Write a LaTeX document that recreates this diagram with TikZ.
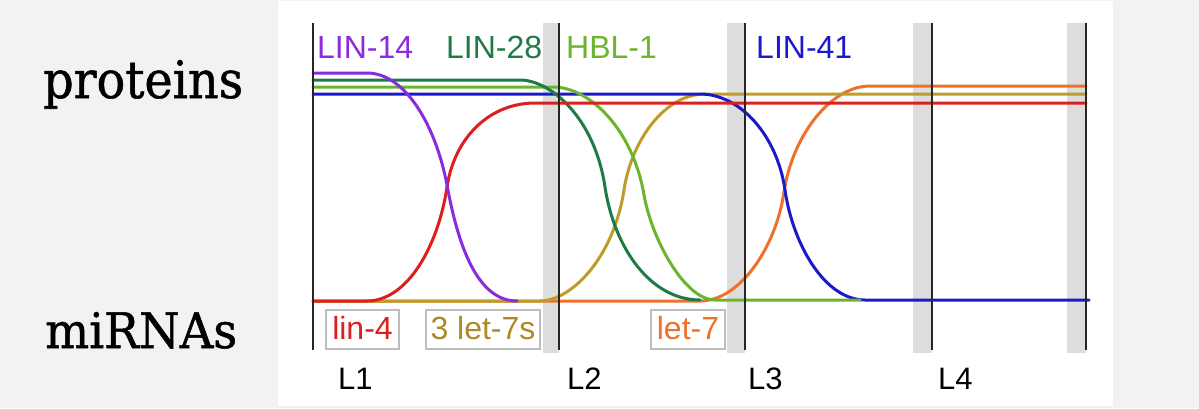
\documentclass[tikz,border=0pt]{standalone}
\usepackage{fontspec}
\setmainfont{Liberation Sans}
\newfontfamily\slabfont[FakeBold=1]{DejaVu Serif}
\usepackage{graphicx}
\definecolor{bg}{HTML}{F2F2F2}
\definecolor{bandgray}{HTML}{DDDDDD}
\definecolor{boxgray}{HTML}{BDBDBD}
\definecolor{purp}{HTML}{8B2BE0}
\definecolor{dgreen}{HTML}{1F7A45}
\definecolor{lgreen}{HTML}{6BB52C}
\definecolor{blu}{HTML}{1A1ACB}
\definecolor{redc}{HTML}{DD1F1F}
\definecolor{olive}{HTML}{BF9B2A}
\definecolor{oran}{HTML}{EF7028}
\begin{document}
\begin{tikzpicture}[x=1pt,y=-1pt,
  curve/.style={line width=3pt, line cap=round, line join=round},
  stage/.style={line width=2.8pt, black!85},
  band/.style={fill=bandgray, draw=none},
  lbl/.style={anchor=base west, inner sep=0pt, font=\fontsize{32}{38}\selectfont},
  stagelbl/.style={anchor=base west, inner sep=0pt, font=\fontsize{31}{36}\selectfont, text=black},
  boxlbl/.style={draw=boxgray, line width=1.4pt, inner xsep=0pt, inner ysep=0pt,
    minimum height=39pt, text height=23pt, text depth=4pt, fill=white,
    font=\fontsize{32}{38}\selectfont},
  sidelbl/.style={anchor=base west, inner sep=0pt}
]
\useasboundingbox (0,0) rectangle (1199,408);
\fill[bg] (0,0) rectangle (1199,408);
\fill[white] (278,1) rectangle (1113,406);

% grey bands
\fill[band] (543,23) rectangle (559,353);
\fill[band] (727,23) rectangle (745,353);
\fill[band] (913,23) rectangle (932,353);
\fill[band] (1067,23) rectangle (1086,353);

% let-7 (orange)
\draw[curve, oran] (313,301) -- (700,301)
  .. controls (740,301) and (776,247) .. (784,192)
  .. controls (792,137) and (830,86) .. (870,86) -- (1086,86);
% 3 let-7s (olive)
\draw[curve, olive] (313,301) -- (540,301)
  .. controls (570,301) and (613,260) .. (624,190)
  .. controls (631.5,140) and (665,94) .. (705,94) -- (1086,94);
% LIN-41 (blue)
\draw[curve, blu] (313,94) -- (700,94)
  .. controls (740,94) and (777,135) .. (785,190)
  .. controls (793,245) and (825,300) .. (865,300) -- (1089,300);
% HBL-1 (light green)
\draw[curve, lgreen] (313,87) -- (553,87)
  .. controls (590,87) and (633,130) .. (644,195)
  .. controls (652,240) and (685,300) .. (715,300) -- (860,300);
% LIN-28 (dark green)
\draw[curve, dgreen] (313,80) -- (520,80)
  .. controls (550,80) and (594.5,117) .. (605,187)
  .. controls (614,247) and (650,300) .. (700,300);
% lin-4 (red)
\draw[curve, redc] (313,301) -- (367,301)
  .. controls (407,301) and (438,247) .. (447,187)
  .. controls (454.5,137) and (490,103) .. (535,103) -- (1086,103);
% LIN-14 (purple)
\draw[curve, purp] (313,73) -- (367,73)
  .. controls (405,73) and (435.6,125) .. (447,185)
  .. controls (458,245) and (477,301) .. (517,301);

% stage lines
\draw[stage] (313,23) -- (313,350);
\draw[stage] (559,23) -- (559,350);
\draw[stage] (745,23) -- (745,350);
\draw[stage] (932,23) -- (932,350);
\draw[stage] (1086,23) -- (1086,350);

% protein labels
\node[lbl, text=purp] (lin14) at (317,58) {LIN-14};
\node[lbl, text=dgreen] (lin28) at (446,58) {LIN-28};
\node[lbl, text=lgreen] (hbl1) at (566,58) {HBL-1};
\node[lbl, text=blu] (lin41) at (756,58) {LIN-41};

% miRNA boxes
\node[boxlbl, text=redc, minimum width=73pt] (lin4) at (362.5,329.5) {lin-4};
\node[boxlbl, text=olive!90!black, minimum width=114pt] (let7s) at (483,329.5) {3 let-7s};
\node[boxlbl, text=oran, minimum width=74pt] (let7) at (688,329.5) {let-7};

% stage labels
\node[stagelbl] (l1) at (338,389) {L1};
\node[stagelbl] (l2) at (567,389) {L2};
\node[stagelbl] (l3) at (748,389) {L3};
\node[stagelbl] (l4) at (938,389) {L4};

% side labels
\node[sidelbl] (prot) at (43,98) {\resizebox{200pt}{38pt}{\slabfont proteins}};
\node[sidelbl] (mirna) at (45,348) {\resizebox{192pt}{36pt}{\slabfont miRNAs}};
\end{tikzpicture}
\end{document}
